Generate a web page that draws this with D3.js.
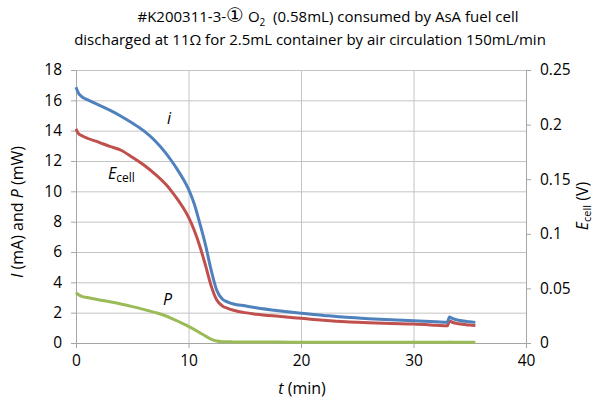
<!DOCTYPE html>
<html>
<head>
<meta charset="utf-8">
<script src="https://cdn.jsdelivr.net/npm/d3@7"></script>
<style>
  body { margin: 0; background: #fff; }
  text { font-family: "Open Sans", "Liberation Sans", sans-serif; fill: #000; white-space: pre; }
  .axis path, .axis line { stroke: #a6a6a6; }
  .grid line { stroke: #c4c4c4; }
  .grid path { display: none; }
</style>
</head>
<body>
<div id="chart"></div>
<script>
// time (min)
const times = [0, 0.2, 0.5, 1, 2, 3, 4, 5, 6, 7, 8, 8.5, 9, 9.5, 10, 10.5, 11, 11.5, 12, 12.5, 13, 13.5,
  14, 15, 16, 18, 20, 22, 24, 26, 28, 30, 32, 33, 33.2, 33.5, 34, 35, 35.5];
// current i (mA), left axis
const currentMA = [16.86, 16.5, 16.25, 16.05, 15.7, 15.35, 14.95, 14.5, 14.0, 13.35, 12.5, 12.0, 11.45, 10.85, 10.15, 9.2, 7.9, 6.5, 4.85, 3.5, 2.9, 2.7,
  2.57, 2.45, 2.33, 2.13, 1.96, 1.82, 1.69, 1.6, 1.53, 1.47, 1.4, 1.36, 1.72, 1.6, 1.5, 1.4, 1.36];
// cell voltage (V), right axis
const ecellV = [0.196, 0.192, 0.19, 0.1875, 0.184, 0.18, 0.1765, 0.1701, 0.1632, 0.1549, 0.1451, 0.1389, 0.1319, 0.1243, 0.1153, 0.1035, 0.0889, 0.0715, 0.0528, 0.0396, 0.034, 0.0317,
  0.030, 0.0278, 0.0264, 0.0244, 0.0226, 0.0208, 0.0194, 0.0186, 0.0179, 0.0174, 0.0163, 0.0157, 0.0201, 0.0188, 0.0176, 0.0164, 0.016];
// power P (mW), left axis
const powerMW = [3.33, 3.2, 3.08, 3.0, 2.85, 2.72, 2.57, 2.4, 2.22, 2.02, 1.78, 1.62, 1.45, 1.28, 1.1, 0.9, 0.68, 0.46, 0.26, 0.13, 0.09, 0.08,
  0.07, 0.07, 0.06, 0.06, 0.05, 0.05, 0.05, 0.05, 0.05, 0.05, 0.05, 0.05, 0.06, 0.05, 0.05, 0.05, 0.05];

const xTicks = [0, 10, 20, 30, 40];
const leftTicks = [0, 2, 4, 6, 8, 10, 12, 14, 16, 18];
const rightTicks = [0, 0.05, 0.1, 0.15, 0.2, 0.25];

const width = 596, height = 401;
const margin = { top: 70, right: 70, bottom: 58, left: 76 };
const chartWidth = width - margin.left - margin.right;
const chartHeight = height - margin.top - margin.bottom;

const svg = d3.select('#chart').append('svg')
  .attr('width', width)
  .attr('height', height);

const g = svg.append('g')
  .attr('transform', `translate(${margin.left},${margin.top})`);

// Scales
const x = d3.scaleLinear().domain([0, 40]).range([0, chartWidth]);
const yLeft = d3.scaleLinear().domain([0, 18]).range([chartHeight, 0]);
const yRight = d3.scaleLinear().domain([0, 0.25]).range([chartHeight, 0]);

// Gridlines
g.append('g').attr('class', 'grid')
  .call(d3.axisLeft(yLeft).tickValues(leftTicks).tickSize(-chartWidth).tickFormat(''));
g.append('g').attr('class', 'grid')
  .attr('transform', `translate(0,${chartHeight})`)
  .call(d3.axisBottom(x).tickValues(xTicks).tickSize(-chartHeight).tickFormat(''));

// Axes
const axisFont = g => g.selectAll('text').attr('font-size', 15.5).attr('fill', '#000');

g.append('g').attr('class', 'axis')
  .call(d3.axisLeft(yLeft).tickValues(leftTicks).tickSizeInner(5).tickSizeOuter(0).tickPadding(9))
  .call(axisFont);

g.append('g').attr('class', 'axis')
  .attr('transform', `translate(${chartWidth},0)`)
  .call(d3.axisRight(yRight).tickValues(rightTicks).tickSizeInner(5).tickSizeOuter(0).tickPadding(9)
    .tickFormat(d => d === 0 ? '0' : String(+d.toFixed(2))))
  .call(axisFont);

g.append('g').attr('class', 'axis')
  .attr('transform', `translate(0,${chartHeight})`)
  .call(d3.axisBottom(x).tickValues(xTicks).tickSizeInner(5).tickSizeOuter(0).tickPadding(7))
  .call(axisFont);

// Lines
const series = [
  { values: powerMW, y: yLeft, color: '#9bbb59' },
  { values: ecellV, y: yRight, color: '#c0504d' },
  { values: currentMA, y: yLeft, color: '#4f81bd' }
];

series.forEach(s => {
  const line = d3.line()
    .x((d, i) => x(times[i]))
    .y(d => s.y(d))
    .curve(d3.curveMonotoneX);
  g.append('path')
    .datum(s.values)
    .attr('d', line)
    .attr('fill', 'none')
    .attr('stroke', s.color)
    .attr('stroke-width', 3)
    .attr('stroke-linejoin', 'round');
});

// Title
const title = svg.append('text')
  .attr('x', 328).attr('y', 22)
  .attr('text-anchor', 'middle')
  .attr('font-size', 15);
title.append('tspan').text('#K200311-3-');
title.append('tspan').attr('font-size', 20).attr('font-family', 'DejaVu Sans').text('\u2460');
title.append('tspan').text(' O');
title.append('tspan').attr('font-size', 10).attr('dy', 4).text('2');
title.append('tspan').attr('dy', -4).text('  (0.58mL) consumed by AsA fuel cell');

svg.append('text')
  .attr('x', 310).attr('y', 45)
  .attr('text-anchor', 'middle')
  .attr('font-size', 15)
  .text('discharged at 11\u03A9 for 2.5mL container by air circulation 150mL/min');

// Axis titles
const yLabel = svg.append('text')
  .attr('transform', 'translate(23,212) rotate(-90)')
  .attr('text-anchor', 'middle')
  .attr('font-size', 16);
yLabel.append('tspan').attr('font-style', 'italic').text('I');
yLabel.append('tspan').text(' (mA) and ');
yLabel.append('tspan').attr('font-style', 'italic').text('P');
yLabel.append('tspan').text(' (mW)');

const rLabel = svg.append('text')
  .attr('transform', 'translate(588,206) rotate(-90)')
  .attr('text-anchor', 'middle')
  .attr('font-size', 16);
rLabel.append('tspan').attr('font-style', 'italic').text('E');
rLabel.append('tspan').attr('font-size', 11).attr('dy', 3).text('cell');
rLabel.append('tspan').attr('dy', -3).text(' (V)');

const xLabel = svg.append('text')
  .attr('x', 302).attr('y', 394)
  .attr('text-anchor', 'middle')
  .attr('font-size', 16);
xLabel.append('tspan').attr('font-style', 'italic').text('t');
xLabel.append('tspan').text(' (min)');

// Series annotations
svg.append('text')
  .attr('x', 169).attr('y', 124)
  .attr('text-anchor', 'middle')
  .attr('font-size', 16).attr('font-style', 'italic')
  .text('i');

const eLabel = svg.append('text')
  .attr('x', 108).attr('y', 179)
  .attr('font-size', 16);
eLabel.append('tspan').attr('font-style', 'italic').text('E');
eLabel.append('tspan').attr('font-size', 12).attr('dy', 3).text('cell');

svg.append('text')
  .attr('x', 163).attr('y', 305)
  .attr('font-size', 16).attr('font-style', 'italic')
  .text('P');
</script>
</body>
</html>
